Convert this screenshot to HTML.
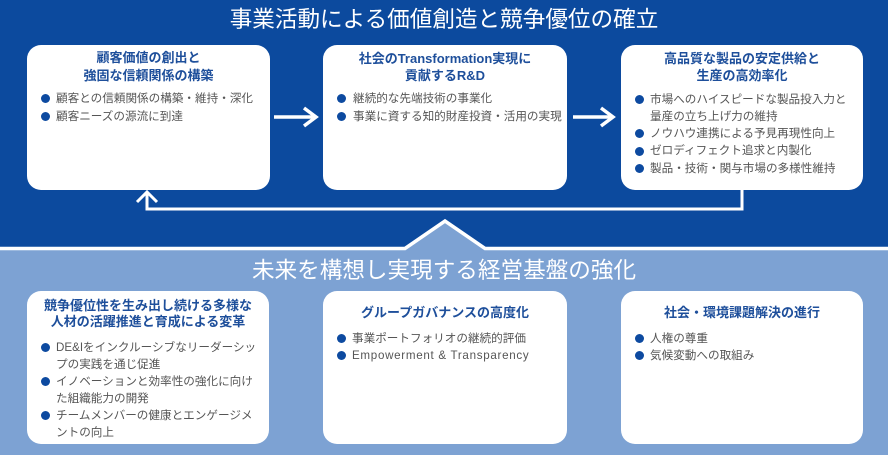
<!DOCTYPE html>
<html><head><meta charset="utf-8">
<style>
*{margin:0;padding:0;box-sizing:border-box}
body{width:888px;height:455px;overflow:hidden;position:relative;background:#0c4a9e;font-family:"Liberation Sans","Noto Sans CJK JP",sans-serif}
svg.bg{position:absolute;left:0;top:0}
.h{position:absolute;left:0;width:888px;text-align:center;color:#fff;font-size:22.6px;line-height:30px;white-space:nowrap}
.box{position:absolute;background:#fff;border-radius:14px}
.t{position:absolute;left:0;right:0;text-align:center;font-weight:700;color:#1e4f9b;font-size:13px;white-space:nowrap}
.ul{position:absolute;left:0;right:0;font-size:11.6px;color:#555;white-space:nowrap}
.li{position:relative;padding-left:29px}
.li:before{content:"";position:absolute;left:13.5px;width:9px;height:9px;border-radius:50%;background:#0d4aa0}
</style></head><body>
<svg class="bg" width="888" height="455" viewBox="0 0 888 455">
<rect width="888" height="455" fill="#0c4a9e"/>
<path d="M-5,248.5 H405 L445,221 L485,248.5 H893 V460 H-5 Z" fill="#7da2d3" stroke="#fff" stroke-width="3.5"/>
<path d="M742,189 V209 H147 V194" stroke="#fff" stroke-width="3" fill="none"/>
<path d="M137,202 L147,192 L157,202" stroke="#fff" stroke-width="3" fill="none"/>
<line x1="274" y1="117" x2="315" y2="117" stroke="#fff" stroke-width="3.5"/>
<path d="M304,108 L316,117 L304,126" stroke="#fff" stroke-width="3.5" fill="none"/>
<line x1="573" y1="117" x2="612" y2="117" stroke="#fff" stroke-width="3.5"/>
<path d="M601,108 L613,117 L601,126" stroke="#fff" stroke-width="3.5" fill="none"/>
</svg>

<div class="h" style="top:5px">事業活動による価値創造と競争優位の確立</div>
<div class="h" style="top:256px">未来を構想し実現する経営基盤の強化</div>

<!-- top boxes -->
<div class="box" style="left:27px;top:45px;width:243px;height:145px">
  <div class="t" style="top:3.5px;line-height:18px">顧客価値の創出と<br>強固な信頼関係の構築</div>
  <div class="ul" style="top:45px;line-height:17.7px">
    <div class="li" style="">顧客との信頼関係の構築・維持・深化</div>
    <div class="li">顧客ニーズの源流に到達</div>
  </div>
</div>
<div class="box" style="left:323px;top:45px;width:244px;height:145px">
  <div class="t" style="top:5px;line-height:17px">社会のTransformation実現に<br>貢献するR&amp;D</div>
  <div class="ul" style="top:45px;line-height:17.7px">
    <div class="li" style="padding-left:30px">継続的な先端技術の事業化</div>
    <div class="li" style="padding-left:30px">事業に資する知的財産投資・活用の実現</div>
  </div>
</div>
<div class="box" style="left:621px;top:45px;width:242px;height:145px">
  <div class="t" style="top:5px;line-height:17px">高品質な製品の安定供給と<br>生産の高効率化</div>
  <div class="ul" style="top:45.5px;line-height:17.3px">
    <div class="li">市場へのハイスピードな製品投入力と<br>量産の立ち上げ力の維持</div>
    <div class="li">ノウハウ連携による予見再現性向上</div>
    <div class="li">ゼロディフェクト追求と内製化</div>
    <div class="li">製品・技術・関与市場の多様性維持</div>
  </div>
</div>

<!-- bottom boxes -->
<div class="box" style="left:27px;top:291px;width:242px;height:153px">
  <div class="t" style="top:7px;line-height:15.5px">競争優位性を生み出し続ける多様な<br>人材の活躍推進と育成による変革</div>
  <div class="ul" style="top:47.5px;line-height:17px">
    <div class="li">DE&amp;Iをインクルーシブなリーダーシッ<br>プの実践を通じ促進</div>
    <div class="li">イノベーションと効率性の強化に向け<br>た組織能力の開発</div>
    <div class="li">チームメンバーの健康とエンゲージメ<br>ントの向上</div>
  </div>
</div>
<div class="box" style="left:323px;top:291px;width:244px;height:153px">
  <div class="t" style="top:13px;line-height:18px">グループガバナンスの高度化</div>
  <div class="ul" style="top:38.5px;line-height:17.7px">
    <div class="li">事業ポートフォリオの継続的評価</div>
    <div class="li" style="letter-spacing:0.7px">Empowerment &amp; Transparency</div>
  </div>
</div>
<div class="box" style="left:621px;top:291px;width:242px;height:153px">
  <div class="t" style="top:13px;line-height:18px">社会・環境課題解決の進行</div>
  <div class="ul" style="top:38.5px;line-height:17.7px">
    <div class="li">人権の尊重</div>
    <div class="li">気候変動への取組み</div>
  </div>
</div>
<style>.li:before{top:50%;margin-top:-4.5px}.li:first-line{}</style>
<style>
/* place dot on the first line for wrapped items */
.li:before{top:calc(var(--lh,17.5px)/2);margin-top:-4.5px}
.ul{--lh:17.5px}
</style>
</body></html>
